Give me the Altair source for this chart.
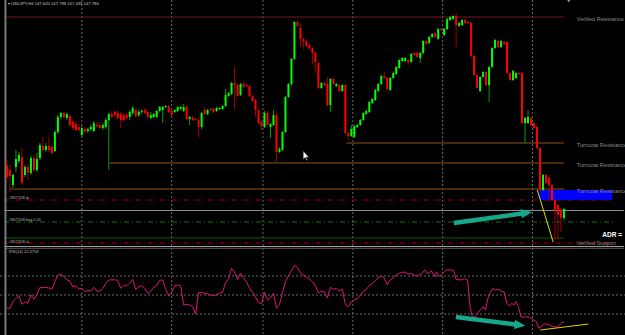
import altair as alt
import pandas as pd

# ---- candle data (price level; smaller level = higher price) ----
opens = [165,170,185,167,161,157,175,167,173,158, 170,158,146,150,146,147,151,132,117,113,
         118,116,122,124,127,135,129,131,129,131, 125,125,128,127,120,114,112,113,114,115,
         115,117,113,110,115,112,110,112,118,117, 117,111,110,107,106,111,112,111,109,111,
         107,119,118,119,120,127,110,114,109,109, 111,109,109,106,96,94,83,85,95,84,
         85,86,96,100,110,122,127,113,127,125, 115,152,150,132,97,84,59,22,28,39,
         41,45,48,53,63,88,83,84,105,79, 86,85,91,85,133,136,137,127,125,120,
         114,112,103,100,91,84,76,78,90,78, 74,68,61,61,60,62,53,53,58,53,
         41,43,37,33,39,29,35,29,20,19, 16,26,25,20,22,23,56,75,91,77,
         72,85,67,48,41,47,42,42,73,80, 78,73,73,123,123,118,123,127,148,190,
         175,178,185,200,205,210,218]
highs = [160,165,174,150,152,148,165,164,156,155, 153,143,137,143,137,145,130,115,112,112,
         113,114,119,121,124,126,127,128,125,121, 122,122,123,118,113,111,110,111,112,113,
         113,110,106,108,110,109,108,110,112,113, 110,106,106,105,105,110,109,106,106,104,
         105,116,116,118,118,112,107,109,108,108, 107,107,105,89,92,82,67,84,83,82,
         84,85,95,99,109,121,111,111,123,110, 113,147,131,96,83,58,21,21,23,38,
         40,44,47,52,62,82,82,77,78,78, 83,84,84,84,132,125,125,124,119,112,
         110,101,98,89,83,75,72,77,77,72, 66,59,57,57,59,53,52,52,52,40,
         40,36,33,32,28,28,28,18,16,15, 13,22,19,19,21,22,55,74,76,71,
         71,66,47,39,40,40,41,41,72,70, 72,72,72,117,110,117,122,126,147,174,
         174,175,184,199,204,208,208]
lows = [180,192,188,172,163,185,177,180,175,172, 172,160,153,152,152,155,152,134,119,118,
        120,127,130,131,132,137,133,133,131,132, 128,129,130,129,170,118,116,119,128,122,
        120,120,115,118,117,114,114,118,119,118, 118,112,123,108,113,116,113,112,110,112,
        120,125,121,121,137,129,115,115,111,113, 112,110,110,107,97,95,109,97,96,88,
        87,97,102,117,124,130,128,126,138,126, 162,153,151,133,98,86,60,27,47,49,
        47,50,65,73,89,89,86,106,112,85, 87,92,92,134,140,137,138,128,126,121,
        115,113,104,101,92,85,79,90,91,79, 75,69,62,62,65,63,56,58,63,54,
        45,44,38,38,40,31,36,30,21,20, 47,27,26,24,24,57,76,89,92,78,
        86,102,68,49,48,48,45,74,81,81, 79,75,124,143,124,126,129,149,191,191,
        184,200,201,240,240,232,220]
closes = [177,176,175,159,155,183,167,173,158,170, 159,145,150,146,150,153,132,117,113,117,
          114,125,128,130,130,128,132,129,127,123, 126,128,125,120,114,117,115,118,120,120,
          118,112,108,116,112,111,113,117,115,114, 111,107,107,106,112,115,110,107,107,107,
          119,117,120,120,127,113,114,110,110,112, 108,108,106,95,93,83,85,96,84,87,
          86,96,101,110,123,126,113,125,124,115, 152,149,132,97,84,59,22,26,39,41,
          46,48,53,62,88,83,85,105,79,84, 84,91,85,133,136,129,126,125,120,113,
          111,102,99,90,84,76,78,89,78,73, 67,60,58,58,62,54,55,57,53,41,
          44,37,34,37,29,30,29,19,17,16, 25,23,20,23,23,56,75,88,77,72,
          85,67,48,40,47,41,44,73,80,71, 73,74,123,118,117,125,128,148,190,175,
          183,185,200,210,215,218,209]

# ---- RSI(14) readings ----
rsi_pos = [0,1,2,3,4,5,6,7,8,9, 10,11,12,13,14,15,16,17,18,19,
           20,21,22,23,24,25,26,27,28,29, 30,31,32,33,34,35,36,37,38,39,
           40,41,42,43,44,45,46,47,48,49, 50,51,52,53,54,55,56,57,58,59,
           60,61,62,63,64,65,67,69,71,72, 73,74,75,76,77,78,79,80,81,82,
           83,84,85,86,87,88,89,90,91,92, 93,94,95,96,97,98,99,100,101,102,
           103,104,105,106,107,108,109,110,111,112, 113,114,115,116,117,118,119,120,121,122,
           123,124,125,126,127,128,129,130,131,132, 133,134,135,136,137,138.5,139.6,140.6,141.7,142.9,
           143.4,144.5,145.6,146.7,148.3,149.2,150,151.6,152.7,153.8, 154.7,155.4,156.2,157.1,158,159.1,159.8,160.6,161.5,162.3,
           163.1,163.7,164.5,165.3,166,166.9,167.8,168.6,169.3,170, 170.8,171.6,172.4,173.5,174.6,175.6,176.8,177.6,178.4,179.5,
           180.6,181.7,182.8,183.9,185,186.1]
rsi_val = [36,36,43,46.5,49.3,40.2,42.9,41.3,50,45.5, 50.7,57.7,58,58,57.4,56,64,71,71.8,69.3,
           66,64.7,58.7,59.5,56.3,57,53.5,55,54.2,58.1, 54.2,54.2,57,62.3,65.8,66,66,65.5,57,59.8,
           59.8,62.6,66.5,56,58.4,59.8,57,51.8,53.5,58.1, 59.8,65.5,65.8,56,49.3,52.8,59.8,60.5,59.8,39.5,
           40.2,39.5,37.7,30,52.8,52.8,51,49,52,53, 63,67,78,74,66,73,68,64,57,53,
           48,42,41,53,45,47,52,36,40,52, 64,70,76,81,79,73,71,69,67,64,
           60,52,54,53,47,58,56,57,54,56, 40,38,43,45,46,50,54,56,60,62,
           65,68,70,68,61,66,68,71,73,74, 74,72,73,71,70,72.8,76.3,72.1,75.6,69.3,
           74.5,69.3,72.8,76.3,76.3,75.6,66.5,65.8,67.2,65.8, 36,27.2,26.5,30.7,34.2,37.7,34.2,46.5,53.5,57,
           55.3,56,55.3,53.5,53.5,41.3,38.4,41.3,39.5,42.9, 37.7,27.2,26.5,27.2,26.5,24.4,21.9,14.9,16.6,19.5,
           19.2,17.4,16.6,16.6,20.2,21.9]
rsi_levels = [70, 50, 30]

# ---- chart furniture (in bar / level units) ----
grid_bars = [25, 55, 85.5, 115.5, 145.5, 175.5]
zone_starts = [113.4, 34.2, 1.0]
zone_levels = [143, 163, 189]
zone_end = 186.0
label_bar = 190.3
resist_labels = ["Turncoat Resistance", "Turncoat Resistance", "Turncoat Resistance"]
resist_label_levels = [145, 165, 191]

W, H = 625, 335
XS = alt.Scale(domain=[-0.657, 204.72], nice=False, zero=False)
YS = alt.Scale(domain=[0, 335], reverse=True, nice=False, zero=False)
RS = alt.Scale(domain=[7.9, 360.5], nice=False, zero=False)


def X(f):
    return alt.X(f, type="quantitative", scale=XS, axis=None)


def Y(f):
    return alt.Y(f, type="quantitative", scale=YS, axis=None)


def hline(level, x0, x1, color, dash=None, width=1.0):
    df = pd.DataFrame({"x": [x0], "x2": [x1], "y": [level]})
    kw = dict(color=color, strokeWidth=width)
    if dash:
        kw["strokeDash"] = dash
    return alt.Chart(df).mark_rule(**kw).encode(x=X("x"), x2="x2", y=Y("y"))


def seg(x0, y0, x1, y1, color, width=1.0):
    df = pd.DataFrame({"x": [x0, x1], "y": [y0, y1], "o": [0, 1]})
    return alt.Chart(df).mark_line(color=color, strokeWidth=width, strokeCap="butt").encode(
        x=X("x"), y=Y("y"), order="o:Q")


def label(x, level, text, size, color, weight="normal", font="Liberation Sans"):
    df = pd.DataFrame({"x": [x], "y": [level], "t": [text]})
    return alt.Chart(df).mark_text(align="left", baseline="middle", fontSize=size, color=color,
                                   fontWeight=weight, font=font).encode(x=X("x"), y=Y("y"), text="t:N")


def point(x, level, shape, size, angle, color, stroke=None):
    df = pd.DataFrame({"x": [x], "y": [level]})
    kw = dict(shape=shape, size=size, angle=angle, filled=True, color=color, opacity=1)
    if stroke:
        kw["stroke"] = stroke
        kw["strokeWidth"] = 0.6
    return alt.Chart(df).mark_point(**kw).encode(x=X("x"), y=Y("y"))


n = len(opens)
candles = pd.DataFrame({"bar": list(range(n)), "open": opens, "high": highs, "low": lows, "close": closes})
candles["dir"] = ["up" if c < o else "down" for o, c in zip(opens, closes)]

layers = []

# vertical dotted grid
grid = alt.Chart(pd.DataFrame({"bar": grid_bars})).mark_rule(
    color="#6a6a6a", strokeDash=[2, 2], strokeWidth=1).encode(
    x=X("bar"), y=alt.value(0), y2=alt.value(H))
layers.append(grid)

# RSI level lines
rsi_lv = alt.Chart(pd.DataFrame({"rsi": rsi_levels})).mark_rule(
    color="#6a6a6a", strokeDash=[2, 2], strokeWidth=1).encode(
    y=alt.Y("rsi:Q", scale=RS, axis=None), x=alt.value(0), x2=alt.value(W))
layers.append(rsi_lv)

# zone / trade lines
layers.append(hline(17, -1, zone_end, "#7a1420"))
for s, lv in zip(zone_starts, zone_levels):
    layers.append(hline(lv, s, zone_end, "#8c5014"))
layers.append(hline(200, -1, 203.1, "#b00000", dash=[5, 3, 1, 3]))
layers.append(hline(243, -1, 203.1, "#b00000", dash=[5, 3, 1, 3]))
layers.append(hline(210.5, -1, 206, "#8a8c98"))
layers.append(hline(222, -1, 203.1, "#1d6e1d", dash=[5, 3, 1, 3]))
layers.append(hline(238, -1, zone_end, "#0b5a0b"))

# blue zone rectangle
rect = alt.Chart(pd.DataFrame({"x": [177.8], "x2": [202.1], "y": [190], "y2": [200]})).mark_rect(
    color="#0000ff").encode(x=X("x"), x2="x2", y=Y("y"), y2="y2")
layers.append(rect)

# separator and borders
layers.append(hline(246.5, -1, 206, "#9a9a9a", width=1.2))
layers.append(hline(248.3, -1, 206, "#5a5a5a", width=1))
layers.append(alt.Chart(pd.DataFrame({"bar": [-0.5]})).mark_rule(color="#7a7a7a", strokeWidth=2).encode(
    x=X("bar"), y=alt.value(0), y2=alt.value(H)))

# candles
wicks = alt.Chart(candles).mark_rule(strokeWidth=1).encode(
    x=X("bar"), y=Y("high"), y2="low",
    color=alt.condition("datum.dir == 'up'", alt.value("#0a9a0a"), alt.value("#a00000")))
bodies = alt.Chart(candles).mark_bar(size=2, strokeWidth=0).encode(
    x=X("bar"), y=Y("open"), y2="close",
    color=alt.condition("datum.dir == 'up'", alt.value("#00ff00"), alt.value("#ff0000")))
layers += [wicks, bodies]

# RSI line
rsi = alt.Chart(pd.DataFrame({"bar": rsi_pos, "rsi": rsi_val})).mark_line(
    color="#dc1478", strokeWidth=1).encode(x=X("bar"), y=alt.Y("rsi:Q", scale=RS, axis=None))
layers.append(rsi)

# yellow trend lines
layers.append(seg(177.1, 190, 182.4, 242, "#e0e000", 1))
layers.append(seg(178.1, 330, 194.2, 324, "#e0d000", 1))

# teal arrows
teal = "#17a88c"
arrow_head = "M -1 -0.85 L 1 0 L -1 0.85 Z"
layers.append(seg(149.2, 223, 172.5, 213.3, teal, 4.5))
layers.append(point(173.55, 212.9, arrow_head, 120, 352.3, teal))
layers.append(seg(149.9, 317, 171.2, 325, teal, 4.5))
layers.append(point(171.3, 325.1, arrow_head, 120, 7.1, teal))

# mouse cursor and shift marker
cursor = "M 0 0 L 0 1.6 L 0.38 1.25 L 0.62 1.8 L 0.82 1.72 L 0.58 1.18 L 1.08 1.18 Z"
layers.append(point(98.9, 150.7, cursor, 121, 0, "#ffffff", stroke="#000000"))
layers.append(point(187.6, 1.2, "triangle-down", 10, 0, "#9a9a9a"))

# texts
layers.append(label(0.3, 4, "▾ USDJPY,H4  147.620 147.798 147.435 147.786", 4.2, "#c8c8c8"))
layers.append(label(label_bar, 19, "Verified Resistance", 5.5, "#8a8a8a"))
for t, lv in zip(resist_labels, resist_label_levels):
    layers.append(label(label_bar, lv, t, 5.5, "#8a8a8a"))
layers.append(label(198.8, 235, "ADR =", 6.5, "#ffffff", weight="bold"))
layers.append(label(label_bar, 242.5, "Verified Support", 5.5, "#8a8a8a"))
layers.append(label(0.7, 197.5, "#857158 tp", 4, "#b8b8b8"))
layers.append(label(0.7, 219.5, "#857158 buy 0.01", 4, "#b8b8b8"))
layers.append(label(0.7, 241.5, "#857158 sl", 4, "#b8b8b8"))
layers.append(label(0.7, 251.5, "RSI(14) 22.4758", 4, "#b8b8b8"))

chart = alt.layer(*layers).resolve_scale(y="independent").properties(
    width=W, height=H, padding=0,
    autosize=alt.AutoSizeParams(type="none"),
    background="#000000",
).configure_view(stroke=None)

chart.save("out.html", embed_options={"renderer": "svg", "actions": False})
